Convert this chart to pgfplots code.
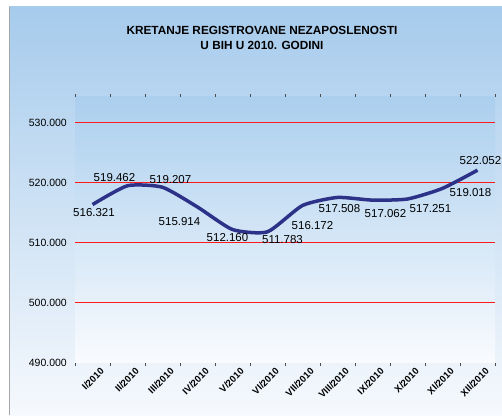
\documentclass[border=0pt]{standalone}
\usepackage{pgfplots}
\pgfplotsset{compat=1.18}
\usepackage{pgfplotstable}
\usepackage{fontspec}
\setmainfont{Liberation Sans}
\definecolor{linecol}{HTML}{2D3289}
\definecolor{gridred}{HTML}{FF1A1A}
\definecolor{bgtop}{HTML}{A6CBEC}
\definecolor{bgbot}{HTML}{F6F9FD}
\definecolor{pltop}{HTML}{ABCFEE}
\definecolor{plbot}{HTML}{F9FBFE}

% month, value, label shift (pt)
\pgfplotstableread{
x y dx dy
1 516321 1.5 -8
2 519462 -13 8
3 519207 8 8
4 515914 -18 -15
5 512160 -5 -8
6 511783 15 -8
7 516172 10 -20
8 517508 2 -11
9 517062 13 -13
10 517251 23 -10
11 519018 28 -4
12 522052 3 10
}\nezap

\begin{document}
\begin{tikzpicture}[x=1pt,y=1pt]
\path[use as bounding box] (0,0) rectangle (502,415);
\shade[top color=bgtop, bottom color=bgbot] (9,0) rectangle (502,408);
\shade[top color=pltop, bottom color=plbot] (75,52.5) rectangle (495,318);
\draw[gray!70, line width=0.8pt] (9,0) -- (9,408);
\node[font=\bfseries\fontsize{11.8}{15}\selectfont, align=center] at (262,377.5)
  {KRETANJE REGISTROVANE NEZAPOSLENOSTI\\U BIH U 2010. GODINI};
\begin{axis}[
    at={(75pt,52.5pt)}, anchor=south west,
    scale only axis, width=420pt, height=265.5pt,
    axis line style={draw=none},
    xmin=0.5, xmax=12.5,
    ymin=490000, ymax=534250,
    xtick={1,...,12},
    xticklabels={I/2010,II/2010,III/2010,IV/2010,V/2010,VI/2010,VII/2010,VIII/2010,IX/2010,X/2010,XI/2010,XII/2010},
    minor xtick={0.5,1.5,...,12.5},
    ytick={500000,510000,520000,530000},
    extra y ticks={490000},
    extra y tick style={grid=none},
    ymajorgrids,
    major grid style={draw=gridred, line width=1.2pt},
    major tick length=0pt,
    minor tick length=3pt,
    tick align=outside,
    minor tick style={draw=black!70, line width=0.5pt},
    scaled y ticks=false,
    /pgf/number format/.cd, fixed, precision=0, 1000 sep={.}, assume math mode=true,
    /pgfplots/.cd,
    yticklabel style={font=\fontsize{10.5}{12}\selectfont, anchor=east, inner sep=0pt, xshift=-8pt},
    xticklabel style={font=\bfseries\fontsize{9.5}{11}\selectfont, rotate=45, anchor=east, inner sep=0pt, yshift=-12pt, xshift=2pt},
    clip=false,
]
\addplot[linecol, line width=3.5pt, smooth, tension=0.35,
    point meta=y,
    visualization depends on={\thisrow{dx} \as \dx},
    visualization depends on={\thisrow{dy} \as \dy},
    nodes near coords={\pgfmathprintnumber[fixed, precision=0, 1000 sep={.}]{\pgfplotspointmeta}},
    nodes near coords align={center},
    every node near coord/.append style={font=\fontsize{11.5}{13}\selectfont, text=black, anchor=center, xshift=\dx, yshift=\dy, inner sep=0pt}
  ] table[x=x, y=y] {\nezap};
\end{axis}
\end{tikzpicture}
\end{document}
